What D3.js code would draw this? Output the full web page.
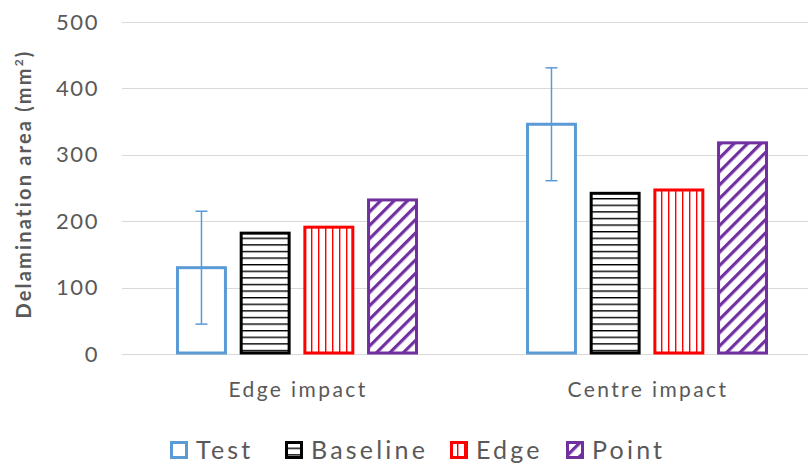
<!DOCTYPE html>
<html><head><meta charset="utf-8">
<script src="https://cdn.jsdelivr.net/npm/d3@7"></script>
<style>body{margin:0;background:#fff}svg{display:block;font-family:Lato,"Open Sans",sans-serif}</style>
</head><body><svg id="c" width="808" height="467"></svg>
<script>
const categories = ["Edge impact", "Centre impact"];
const seriesNames = ["Test", "Baseline", "Edge", "Point"];
const testValues = [130, 346];
const baselineValues = [182, 242];
const edgeValues = [191, 247];
const pointValues = [232, 318];
const testErrors = [85, 85];
const yTicks = [0, 100, 200, 300, 400, 500];

const values = {Test: testValues, Baseline: baselineValues, Edge: edgeValues, Point: pointValues};
const colors = {Test: "#5B9BD5", Baseline: "#000000", Edge: "#FF0000", Point: "#7030A0"};
const fills = {Test: "#ffffff", Baseline: "url(#pH)", Edge: "url(#pV)", Point: "url(#pD)"};

const svg = d3.select("#c");
const defs = svg.append("defs");
const pH = defs.append("pattern").attr("id","pH").attr("patternUnits","userSpaceOnUse").attr("width",8).attr("height",6.6);
pH.append("rect").attr("width",8).attr("height",6.6).attr("fill","#fff");
pH.append("rect").attr("y",0).attr("width",8).attr("height",1.4).attr("fill","#000");
const pV = defs.append("pattern").attr("id","pV").attr("patternUnits","userSpaceOnUse").attr("width",7).attr("height",8);
pV.append("rect").attr("width",7).attr("height",8).attr("fill","#fff");
pV.append("rect").attr("x",0).attr("width",1.4).attr("height",8).attr("fill","#FF0000");
const pD = defs.append("pattern").attr("id","pD").attr("patternUnits","userSpaceOnUse").attr("width",9.5).attr("height",9.5).attr("patternTransform","rotate(45)");
pD.append("rect").attr("width",9.5).attr("height",9.5).attr("fill","#fff");
pD.append("rect").attr("x",0).attr("width",3.2).attr("height",9.5).attr("fill","#7030A0");

const y = d3.scaleLinear().domain([0, 500]).range([354, 22]);
const x = d3.scaleBand().domain(categories).range([122, 822]);
const xs = d3.scaleBand().domain(seriesNames).range([-121, 121]).paddingInner(0.2);

svg.append("g").selectAll("line").data(yTicks).join("line")
  .attr("x1", 122).attr("x2", 808).attr("y1", d => Math.round(y(d)) + 0.5).attr("y2", d => Math.round(y(d)) + 0.5)
  .attr("stroke", "#D9D9D9").attr("stroke-width", 1);

const yAxis = d3.axisLeft(y).tickValues(yTicks).tickSize(0).tickPadding(0);
const ya = svg.append("g").attr("transform", "translate(99,0)").call(yAxis);
ya.select(".domain").remove();
ya.selectAll("text").attr("font-size", 22).attr("letter-spacing", 1.6).attr("fill", "#595959").attr("font-family", "Lato,'Open Sans',sans-serif");

const yt = svg.append("text").attr("transform", "translate(31,184) rotate(-90)")
  .attr("text-anchor", "middle").attr("font-size", 20).attr("letter-spacing", 2.2).attr("font-weight", "bold").attr("fill", "#595959");
yt.append("tspan").text("Delamination area (mm");
yt.append("tspan").attr("font-size", 12).attr("dy", -8).text("2");
yt.append("tspan").attr("dy", 8).text(")");

const groups = svg.append("g").selectAll("g").data(categories).join("g")
  .attr("transform", d => `translate(${x(d) + x.bandwidth()/2},0)`);
groups.each(function(cat, ci) {
  const g = d3.select(this);
  seriesNames.forEach(s => {
    const v = values[s][ci];
    g.append("rect")
      .attr("x", xs(s) + 1.5).attr("width", xs.bandwidth() - 3)
      .attr("y", y(v)).attr("height", y(0) - y(v) - 1)
      .attr("fill", fills[s]).attr("stroke", colors[s]).attr("stroke-width", 3);
  });
  const cx = xs("Test") + xs.bandwidth()/2;
  const v = testValues[ci], e = testErrors[ci];
  g.append("line").attr("x1", cx).attr("x2", cx).attr("y1", y(v + e)).attr("y2", y(v - e))
    .attr("stroke", "#5B9BD5").attr("stroke-width", 1.5);
  [v + e, v - e].forEach(t => g.append("line").attr("x1", cx - 6).attr("x2", cx + 6)
    .attr("y1", y(t)).attr("y2", y(t)).attr("stroke", "#5B9BD5").attr("stroke-width", 1.5));
});

const xAxis = d3.axisBottom(x).tickSize(0).tickPadding(0);
const xa = svg.append("g").attr("transform", "translate(1,382)").call(xAxis);
xa.select(".domain").remove();
xa.selectAll("text").attr("font-size", 21).attr("letter-spacing", 2.4).attr("fill", "#595959").attr("font-family", "Lato,'Open Sans',sans-serif");

const legendX = [170, 285, 450, 566];
const lg = svg.append("g").selectAll("g").data(seriesNames).join("g")
  .attr("transform", (d, i) => `translate(${legendX[i]},441)`);
lg.append("rect").attr("x", 1.5).attr("y", 1.5).attr("width", 15).attr("height", 15)
  .attr("fill", d => d === "Test" ? "#fff" : fills[d]).attr("stroke", d => colors[d]).attr("stroke-width", 3);
lg.append("text").attr("x", 26).attr("y", 18).attr("font-size", 25).attr("letter-spacing", 3.2).attr("fill", "#595959").text(d => d);
</script></body></html>
